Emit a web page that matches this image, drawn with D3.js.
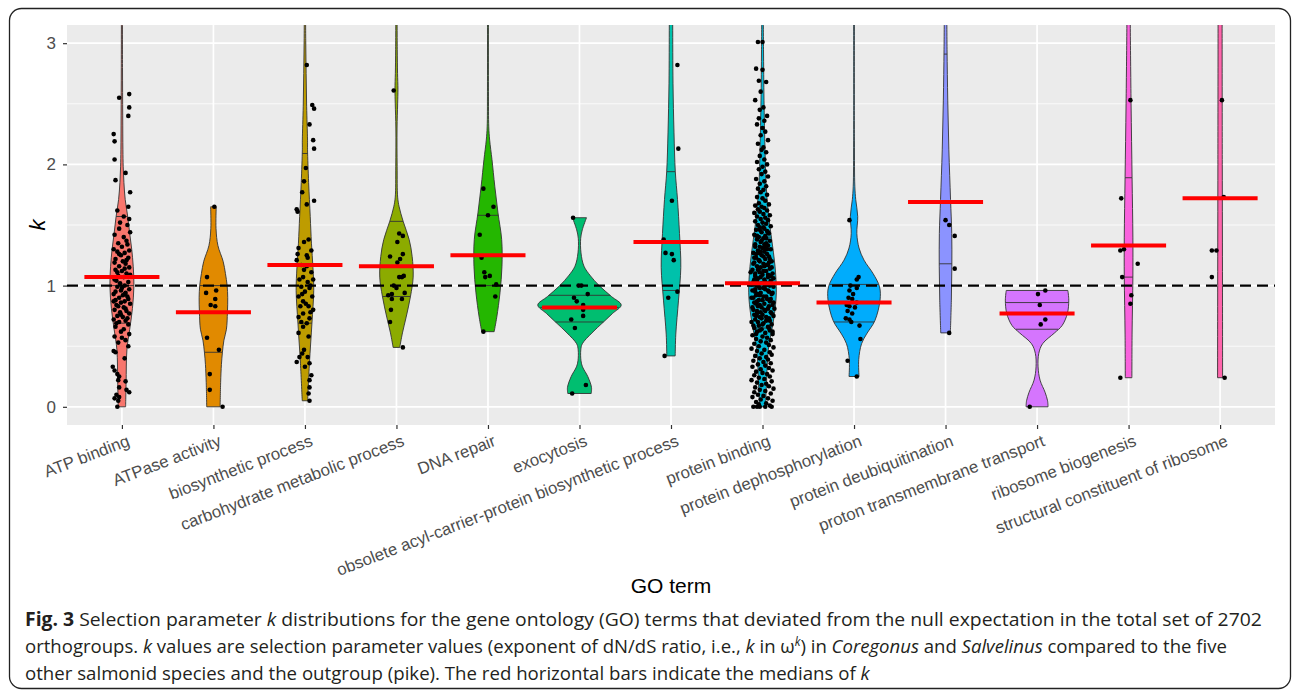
<!DOCTYPE html>
<html>
<head>
<meta charset="utf-8">
<script src="https://cdn.jsdelivr.net/npm/d3@7"></script>
<style>
  body { margin: 0; background: #fff; }
  svg { display: block; font-family: "Liberation Sans", Arial, sans-serif; }
</style>
</head>
<body>
<svg id="chart" width="1293" height="691"></svg>
<script>
// GO terms on the x axis (ggplot default hue palette, one colour per term)
const goTerms = [
  'ATP binding', 'ATPase activity', 'biosynthetic process', 'carbohydrate metabolic process',
  'DNA repair', 'exocytosis', 'obsolete acyl-carrier-protein biosynthetic process',
  'protein binding', 'protein dephosphorylation', 'protein deubiquitination',
  'proton transmembrane transport', 'ribosome biogenesis', 'structural constituent of ribosome'
];
const termColors = ['#F8766D', '#E18A00', '#BE9C00', '#8CAB00', '#24B700', '#00BE70', '#00C1AB',
  '#00BBDA', '#00ACFC', '#8B93FF', '#D575FE', '#F962DD', '#FF65AC'];

// Median k per term (red bars)
const medianK = [1.07, 0.78, 1.17, 1.16, 1.25, 0.82, 1.36, 1.02, 0.86, 1.69, 0.77, 1.33, 1.72];

// Violin quantile lines (25/50/75 %)
const quartileK = [
  [0.69, 1.0, 1.57], [0.45, 0.78, 1.0], [0.69, 1.17, 2.09], [0.91, 1.16, 1.53],
  [1.0, 1.25, 1.58], [0.70, 0.82, 0.92], [0.96, 1.36, 1.94], [0.65, 1.02, 1.40],
  [0.70, 0.86, 1.01], [1.18, 1.69, 2.91], [0.64, 0.77, 0.86], [1.07, 1.33, 1.89], [1.72]
];

// Violin density profiles: [k, density]
const profATPBinding = [[0,3.7],[0.2,4.2],[0.47,5],[0.64,7.8],[0.81,10.5],[1.0,12],[1.16,11.3],[1.3,9.8],[1.43,7.8],[1.57,5.8],[1.71,3.3],[1.85,2],[1.98,1.3],[2.12,1],[2.4,0.8],[2.8,0.6],[3.3,0.5]];
const profATPase = [[0,6.7],[0.2,7.2],[0.35,8],[0.45,9],[0.55,10.5],[0.64,13],[0.78,14],[0.9,14.3],[1.0,13.7],[1.1,12],[1.2,9.7],[1.33,4.5],[1.47,2.6],[1.65,2.8]];
const profBiosynthetic = [[0.05,2.7],[0.36,4.5],[0.69,7],[0.96,8.8],[1.15,8],[1.35,6.5],[1.57,5.3],[1.85,3.7],[2.12,2.6],[2.2,2.6],[2.48,1.7],[2.75,1.2],[3.02,0.8],[3.3,0.6]];
const profCarbohydrate = [[0.49,3.3],[0.61,6],[0.74,9.7],[0.91,14],[1.07,16.7],[1.24,15.7],[1.38,12.7],[1.53,6.7],[1.65,2.7],[1.73,1.2],[1.98,0.7],[2.3,0.6],[2.5,1.2],[2.62,1.5],[2.75,1.1],[2.95,0.8],[3.3,0.6]];
const profDNARepair = [[0.62,6.2],[0.74,8.8],[0.94,12],[1.16,14],[1.38,13.7],[1.6,10],[1.82,6.8],[2.04,4],[2.2,1.7],[2.31,0.8],[2.6,0.5],[3.3,0.5]];
const profExocytosis = [[0.11,11.7],[0.16,12],[0.25,8.3],[0.33,3],[0.38,1.5],[0.47,1.3],[0.52,2.8],[0.61,12.5],[0.7,24],[0.77,33],[0.84,41.7],[0.91,32],[1.0,19.7],[1.08,11],[1.16,4.5],[1.27,1.5],[1.39,1.2],[1.46,2.8],[1.56,7]];
const profObsolete = [[0.42,4.2],[0.6,4.8],[0.88,7.5],[1.15,9.8],[1.43,8.5],[1.71,6.5],[1.94,4.3],[2.26,3],[2.67,2],[3.15,1.7],[3.3,1.6]];
const profProteinBinding = [[0,3],[0.19,4],[0.47,5.8],[0.74,11.5],[0.94,13.8],[1.16,12.5],[1.38,9.2],[1.6,5.8],[1.85,3.5],[2.12,2.5],[2.53,1.5],[2.95,1],[3.3,0.7]];
const profDephos = [[0.25,5],[0.39,4.7],[0.52,7.5],[0.6,12.5],[0.71,20.8],[0.88,26],[0.99,25.5],[1.1,19],[1.21,10],[1.31,5],[1.43,2.8],[1.57,3.7],[1.71,1.7],[1.82,0.8],[2.2,0.4],[3.3,0.4]];
const profDeubiq = [[0.61,4.8],[0.88,5.8],[1.16,6.3],[1.43,6.2],[1.71,5],[2.12,3.3],[2.53,2.2],[2.95,1.5],[3.3,1.2]];
const profProton = [[0,11],[0.05,10.5],[0.12,8],[0.22,3],[0.33,1],[0.44,1.7],[0.52,5.5],[0.61,17.5],[0.67,25],[0.77,30.3],[0.88,31.7],[0.96,30.8]];
const profRibosomeBio = [[0.24,3.3],[0.6,3.5],[1.07,4.3],[1.4,4.3],[1.89,3.5],[2.5,2.5],[3.15,1.7],[3.3,1.6]];
const profStructural = [[0.24,2.5],[1.0,2.4],[2.0,2.2],[3.3,2.0]];

// Jittered points: [k, jitter as % of category width]
const ptsATPBinding = [[2.58,8],[2.55,-3],[2.47,8],[2.40,7],[2.25,-9],[2.19,-8],[2.04,-8],[1.93,4],[1.87,-7],[1.77,9],[1.65,7],[1.62,-5],[1.57,2],[1.55,8],[1.52,-2],[1.50,6],[1.47,-3],[1.44,9],[1.42,-8],[1.40,2],[1.37,5],[1.35,-4],[1.32,0],[1.30,-9],[1.29,8],[1.28,-5],[1.27,3],[1.25,-1],[1.23,7],[1.22,-7],[1.20,1],[1.18,4],[1.16,-3],[1.15,8],[1.13,-7],[1.12,0],[1.10,5],[1.08,-4],[1.07,2],[1.05,-8],[1.03,7],[1.02,-2],[1.00,3],[0.99,-5],[0.97,8],[0.96,-1],[0.94,4],[0.93,-9],[0.92,1],[0.90,-3],[0.89,7],[0.88,-7],[0.87,3],[0.86,-1],[0.85,9],[0.83,-4],[0.82,2],[0.80,-8],[0.79,5],[0.78,-2],[0.77,8],[0.75,-5],[0.74,1],[0.72,-9],[0.71,4],[0.70,-3],[0.68,7],[0.66,-7],[0.64,2],[0.62,-1],[0.60,8],[0.58,-8],[0.57,0],[0.55,4],[0.53,-4],[0.50,7],[0.46,-9],[0.45,-7],[0.40,3],[0.33,-10],[0.30,-8],[0.27,-5],[0.25,-3],[0.22,-4],[0.21,4],[0.16,-3],[0.14,5],[0.12,8],[0.10,-6],[0.08,-3],[0.07,-8],[0.05,-4],[0.00,-5],
  [1.34,6],[1.26,-3],[1.19,-8],[1.14,3],[1.09,9],[1.04,-6],[0.98,0],[0.95,-7],[0.91,6],[0.84,-6],[0.81,4],[0.76,-1],[0.73,6],[0.69,-6],[0.93,3],[1.11,-5],[1.21,5],[0.87,-9]];
const ptsATPase = [[1.65,1],[1.07,-7],[0.94,-8],[0.96,3],[0.89,2],[0.84,-3],[0.83,2],[0.57,-7],[0.47,6],[0.27,-4],[0.14,-4],[0.0,10]];
const ptsBiosynthetic = [[2.82,2],[2.49,8],[2.46,10],[2.33,5],[2.20,9],[2.13,10],[1.97,1],[1.86,-1],[1.77,-3],[1.70,10],[1.63,-9],[1.61,-8],[1.67,2],
  [1.38,4],[1.36,-1],[1.31,-7],[1.29,7],[1.25,2],[1.26,-8],[1.21,-9],[1.17,-4],[1.16,2],[1.11,7],[1.07,-2],[1.05,-6],[1.03,3],[1.05,9],[0.99,-4],[0.98,5],[0.95,0],[0.91,-7],[0.91,8],[0.87,-2],[0.83,-5],[0.83,4],[0.80,9],[0.77,-2],[0.74,-7],[0.73,5],[0.70,-4],[0.69,2],[0.61,-7],[0.47,-1],[0.44,-3],[0.37,-9],[0.41,-6],[0.41,3],[0.36,5],[0.33,0],[0.26,7],[0.22,5],[0.16,5],[0.11,4],[0.05,5],
  [1.23,3],[1.13,-1],[1.0,6],[0.93,-3],[0.85,1],[0.78,6],[0.66,-2],[0.58,4]];
const ptsCarbohydrate = [[2.61,-3],[1.43,3],[1.36,1],[1.41,7],[1.24,-7],[1.22,4],[1.26,7],[1.19,1],[1.07,3],[1.08,8],[1.07,6],[1.0,-3],[0.98,0],[0.93,-5],[0.92,-9],[0.89,-5],[0.94,9],[0.89,6],[0.80,-6],[0.70,-7],[0.49,7]];
const ptsDNARepair = [[1.80,-5],[1.65,6],[1.58,0],[1.42,-9],[1.23,-7],[1.11,-4],[1.08,2],[1.07,-3],[1.01,9],[0.91,8],[0.62,-5]];
const ptsExocytosis = [[1.56,-7],[1.0,-1],[1.0,2],[0.93,9],[0.90,-6],[0.87,-3],[0.84,4],[0.80,4],[0.75,4],[0.72,-9],[0.65,-5],[0.18,7],[0.11,-8]];
const ptsObsolete = [[2.82,7],[2.13,8],[1.70,1],[1.38,-8],[1.27,-6],[1.26,1],[1.21,3],[0.95,7],[0.90,-3],[0.42,-7]];
const ptsProteinBinding = [[3.01,-5],[3.01,0],[2.79,-7],[2.78,0],[2.69,-4],[2.68,4],[2.60,-2],[2.53,-8],[2.47,1],[2.45,-3],[2.40,5],[2.38,-4],[2.36,2],[2.33,-6],[2.30,0],[2.27,3],[2.24,-2],[2.20,6],[2.17,-5],[2.14,1],[2.12,-1],[2.10,4],[2.07,-3],[2.04,2],[2.02,-6],[2.00,5],[1.98,0],[1.96,-4],[1.94,3],[1.92,-1],[1.90,6],[1.88,-7],[1.86,2],[1.84,-3],[1.82,4],[1.80,-5],[1.79,1],[1.77,-2],[1.75,5],[1.73,-6],[1.72,0],[1.70,3],[1.68,-4],[1.67,7],[1.66,-8],[1.65,-1],[1.64,2],[1.63,-5],[1.62,5],[1.61,-3],[1.60,-9],[1.59,1],[1.58,8],[1.57,-6],[1.56,3],[1.55,-2],[1.54,6],[1.53,-8],[1.52,0],[1.51,4],[1.50,-5],[1.49,9],[1.48,-3],[1.47,2],[1.46,-7],[1.45,5],[1.44,-1],[1.43,7],[1.42,-9],[1.41,3],[1.40,-4],[1.39,1],[1.38,-6],[1.37,8],[1.36,-2],[1.35,4],[1.34,-8],[1.33,6],[1.32,-3],[1.31,0],[1.30,9],[1.29,-5],[1.28,2],[1.27,-10],[1.26,5],[1.25,-1],[1.24,7],[1.23,-7],[1.22,3],[1.21,-4],[1.20,10],[1.19,-9],[1.18,1],[1.17,6],[1.16,-6],[1.15,-2],[1.14,8],[1.13,-11],[1.12,4],[1.11,-3],[1.10,11],[1.09,0],[1.08,-8],[1.07,6],[1.06,-5],[1.05,2],[1.04,9],[1.03,-10],[1.02,-1],[1.01,5],[1.00,-6],[0.99,12],[0.98,-3],[0.97,3],[0.96,-11],[0.95,7],[0.94,-2],[0.93,10],[0.92,-7],[0.91,1],[0.90,-12],[0.89,5],[0.88,-4],[0.87,8],[0.86,-9],[0.85,2],[0.84,11],[0.83,-5],[0.82,-1],[0.81,6],[0.80,-10],[0.79,3],[0.78,9],[0.77,-6],[0.76,0],[0.75,12],[0.74,-3],[0.73,7],[0.72,-8],[0.71,4],[0.70,-12],[0.69,1],[0.68,10],[0.67,-4],[0.66,6],[0.65,-9],[0.64,-1],[0.63,8],[0.62,-6],[0.61,3],[0.60,11],[0.59,-11],[0.58,0],[0.57,5],[0.56,-7],[0.55,9],[0.54,-2],[0.53,4],[0.52,-9],[0.51,7],[0.50,-4],[0.49,12],[0.48,-12],[0.47,2],[0.46,-6],[0.45,8],[0.44,-1],[0.43,10],[0.42,-8],[0.41,4],[0.40,-3],[0.39,6],[0.38,-10],[0.37,1],[0.36,9],[0.35,-5],[0.34,3],[0.33,-11],[0.32,7],[0.31,-2],[0.30,11],[0.29,-7],[0.28,0],[0.27,5],[0.26,-9],[0.25,8],[0.24,-4],[0.23,2],[0.22,-12],[0.21,10],[0.20,-6],[0.19,4],[0.18,-1],[0.17,7],[0.16,-8],[0.15,12],[0.14,-3],[0.13,3],[0.12,-9],[0.11,9],[0.10,-5],[0.09,1],[0.08,-11],[0.07,6],[0.06,-2],[0.05,11],[0.04,-7],[0.03,4],[0.02,-4],[0.01,8],[0.00,-10],[0.00,-6],[0.00,-3],[0.00,3],[0.00,10],
  [1.48,1],[1.46,-3],[1.44,6],[1.41,-6],[1.39,4],[1.37,-1],[1.34,2],[1.32,-8],[1.30,5],[1.28,-2],[1.26,-7],[1.24,1],[1.22,8],[1.20,-3],[1.18,-10],[1.17,4],[1.15,10],[1.13,-5],[1.12,1],[1.10,-8],[1.09,6],[1.07,-2],[1.06,12],[1.04,-6],[1.03,3],[1.01,-12],[1.00,8],[0.99,-4],[0.98,1],[0.96,6],[0.95,-8],[0.94,11],[0.92,-3],[0.91,4],[0.90,-10],[0.88,0],[0.87,-6],[0.86,12],[0.84,-3],[0.83,7],[0.82,-11],[0.80,2],[0.79,-6],[0.77,10],[0.76,-9],[0.74,4],[0.73,-1],[0.71,8],[0.70,-5],[0.68,0],[0.67,-10],[0.65,7],[0.63,-3],[0.62,11],[0.60,-7],
  [1.31,3],[1.27,-4],[1.23,-9],[1.19,7],[1.16,2],[1.14,-4],[1.11,-13],[1.08,9],[1.05,-9],[1.02,7],[0.99,2],[0.97,-8],[0.93,-5],[0.89,9],[0.85,-7],[0.81,13],[0.78,-2],[0.75,-7]];
const ptsDephos = [[1.54,-5],[1.07,5],[1.05,3],[1.0,-4],[0.98,3],[0.96,-5],[0.93,-1],[0.90,-6],[0.89,-2],[0.86,3],[0.84,-8],[0.83,-5],[0.82,1],[0.79,-7],[0.77,-2],[0.73,-9],[0.72,-5],[0.70,-3],[0.67,6],[0.56,7],[0.38,-7],[0.25,3]];
const ptsDeubiq = [[1.54,0],[1.50,4],[1.41,10],[1.14,10],[0.61,4]];
const ptsProton = [[0.93,1],[0.96,9],[0.84,3],[0.72,9],[0.68,4],[0.0,-8]];
const ptsRibosomeBio = [[2.53,2],[1.72,-8],[1.29,-9],[1.30,-5],[1.18,10],[1.07,-7],[0.92,3],[0.85,2],[0.24,-9]];
const ptsStructural = [[2.53,2],[1.73,4],[1.29,-9],[1.29,-4],[1.07,-9],[0.24,5]];

const violinProfiles = [profATPBinding, profATPase, profBiosynthetic, profCarbohydrate, profDNARepair,
  profExocytosis, profObsolete, profProteinBinding, profDephos, profDeubiq, profProton, profRibosomeBio, profStructural];
const termPoints = [ptsATPBinding, ptsATPase, ptsBiosynthetic, ptsCarbohydrate, ptsDNARepair,
  ptsExocytosis, ptsObsolete, ptsProteinBinding, ptsDephos, ptsDeubiq, ptsProton, ptsRibosomeBio, ptsStructural];

const yTicks = [0, 1, 2, 3];
const yMinorTicks = [0.5, 1.5, 2.5];
const nullExpectation = 1;


class ViolinPlot {
  constructor(_config) {
    this.config = {
      parentElement: _config.parentElement,
      panel: { left: 67, right: 1275, top: 25, bottom: 425 }
    };
    this.initVis();
  }

  initVis() {
    let vis = this;
    const p = vis.config.panel;

    vis.svg = d3.select(vis.config.parentElement);

    vis.x = d3.scalePoint().domain(goTerms).range([p.left, p.right]).padding(0.6);
    vis.y = d3.scaleLinear().domain([-0.15, 3.15]).range([p.bottom, p.top]);
    // density -> half width in px (45.75 = half a category)
    vis.widthScale = d3.scaleLinear().domain([0, 45.75]).range([0, vis.x.step() / 2]);
    vis.color = d3.scaleOrdinal().domain(goTerms).range(termColors);

    // outer figure frame
    vis.svg.append('rect')
      .attr('x', 9.5).attr('y', 8.5)
      .attr('width', 1281).attr('height', 680)
      .attr('rx', 12)
      .attr('fill', 'none')
      .attr('stroke', '#222')
      .attr('stroke-width', 1.3);

    vis.svg.append('defs').append('clipPath').attr('id', 'panel-clip')
      .append('rect')
      .attr('x', p.left).attr('y', p.top)
      .attr('width', p.right - p.left).attr('height', p.bottom - p.top);

    vis.svg.append('rect')
      .attr('x', p.left).attr('y', p.top)
      .attr('width', p.right - p.left).attr('height', p.bottom - p.top)
      .attr('fill', '#EBEBEB');

    vis.chart = vis.svg.append('g').attr('clip-path', 'url(#panel-clip)');

    vis.renderGrid();
    vis.renderVis();
    vis.renderAxes();
    vis.renderCaption();
  }

  renderGrid() {
    let vis = this;
    const p = vis.config.panel;

    vis.chart.selectAll('.minor').data(yMinorTicks).join('line')
      .attr('x1', p.left).attr('x2', p.right)
      .attr('y1', d => vis.y(d)).attr('y2', d => vis.y(d))
      .attr('stroke', '#fff').attr('stroke-width', 0.8);

    vis.chart.selectAll('.major-y').data(yTicks).join('line')
      .attr('x1', p.left).attr('x2', p.right)
      .attr('y1', d => vis.y(d)).attr('y2', d => vis.y(d))
      .attr('stroke', '#fff').attr('stroke-width', 1.7);

    vis.chart.selectAll('.major-x').data(goTerms).join('line')
      .attr('x1', d => vis.x(d)).attr('x2', d => vis.x(d))
      .attr('y1', p.top).attr('y2', p.bottom)
      .attr('stroke', '#fff').attr('stroke-width', 1.7);
  }

  renderVis() {
    let vis = this;

    const violins = goTerms.map((t, i) => ({ term: t, profile: violinProfiles[i], q: quartileK[i] }));

    const area = d3.area()
      .curve(d3.curveCatmullRom)
      .y(d => vis.y(d[0]));

    const g = vis.chart.selectAll('.violin').data(violins).join('g').attr('class', 'violin');

    g.append('path')
      .attr('d', d => {
        const cx = vis.x(d.term);
        return area.x0(p => cx - vis.widthScale(p[1])).x1(p => cx + vis.widthScale(p[1]))(d.profile);
      })
      .attr('fill', d => vis.color(d.term))
      .attr('stroke', '#333')
      .attr('stroke-width', 0.9);

    // quantile lines across the violin
    g.each(function(d) {
      const cx = vis.x(d.term);
      const halfAt = d3.scaleLinear().domain(d.profile.map(p => p[0])).range(d.profile.map(p => p[1]));
      d3.select(this).selectAll('.q').data(d.q).join('line')
        .attr('x1', q => cx - vis.widthScale(halfAt(q)))
        .attr('x2', q => cx + vis.widthScale(halfAt(q)))
        .attr('y1', q => vis.y(q)).attr('y2', q => vis.y(q))
        .attr('stroke', '#333').attr('stroke-width', 0.9);
    });

    // jittered points
    const points = termPoints.flatMap((pts, i) => pts.map(p => ({ term: goTerms[i], k: p[0], j: p[1] })));
    vis.chart.selectAll('.pt').data(points).join('circle')
      .attr('cx', d => vis.x(d.term) + vis.x.step() * d.j / 100)
      .attr('cy', d => vis.y(d.k))
      .attr('r', 2.3)
      .attr('fill', '#000');

    // null expectation k = 1
    vis.chart.append('line')
      .attr('x1', vis.config.panel.left).attr('x2', vis.config.panel.right)
      .attr('y1', vis.y(nullExpectation)).attr('y2', vis.y(nullExpectation))
      .attr('stroke', '#000').attr('stroke-width', 2.3)
      .attr('stroke-dasharray', '11,6');

    // medians
    vis.chart.selectAll('.median').data(goTerms).join('line')
      .attr('x1', d => vis.x(d) - vis.x.step() * 0.41)
      .attr('x2', d => vis.x(d) + vis.x.step() * 0.41)
      .attr('y1', (d, i) => vis.y(medianK[i])).attr('y2', (d, i) => vis.y(medianK[i]))
      .attr('stroke', '#FF0000').attr('stroke-width', 4);
  }

  renderAxes() {
    let vis = this;
    const p = vis.config.panel;

    const yAxis = vis.svg.append('g')
      .attr('transform', `translate(${p.left},0)`)
      .call(d3.axisLeft(vis.y).tickValues(yTicks).tickSize(4).tickPadding(7).tickFormat(d3.format('d')));
    yAxis.select('.domain').remove();
    yAxis.selectAll('line').attr('stroke', '#333').attr('stroke-width', 1.2);
    yAxis.selectAll('text').attr('fill', '#4D4D4D').style('font-size', '17px');

    const xAxis = vis.svg.append('g')
      .attr('transform', `translate(0,${p.bottom})`)
      .call(d3.axisBottom(vis.x).tickSize(4).tickSizeOuter(0));
    xAxis.select('.domain').remove();
    xAxis.selectAll('line').attr('stroke', '#333').attr('stroke-width', 1.2);
    xAxis.selectAll('text')
      .attr('fill', '#4D4D4D')
      .style('font-size', '16.8px')
      .attr('text-anchor', 'end')
      .attr('x', 0).attr('y', 0).attr('dy', '0.72em')
      .attr('transform', 'translate(4,9) rotate(-21)');

    vis.svg.append('text')
      .attr('x', (p.left + p.right) / 2).attr('y', 593)
      .attr('text-anchor', 'middle')
      .style('font-size', '21px')
      .attr('fill', '#000')
      .text('GO term');

    vis.svg.append('text')
      .attr('transform', `translate(45,${(p.top + p.bottom) / 2}) rotate(-90)`)
      .attr('text-anchor', 'middle')
      .style('font-size', '22px')
      .style('font-style', 'italic')
      .text('k');
  }

  renderCaption() {
    let vis = this;

    const lines = [
      [['Fig. 3', 'b'], [' Selection parameter '], ['k', 'i'], [' distributions for the gene ontology (GO) terms that deviated from the null expectation in the total set of 2702']],
      [['orthogroups. '], ['k', 'i'], [' values are selection parameter values (exponent of dN/dS ratio, i.e., '], ['k', 'i'], [' in ω'], ['k', 's'], [') in '], ['Coregonus', 'i'], [' and '], ['Salvelinus', 'i'], [' compared to the five']],
      [['other salmonid species and the outgroup (pike). The red horizontal bars indicate the medians of '], ['k', 'i']]
    ];
    const baselines = [626, 653, 680];
    const lineEnds = [1263, 1228, 870];

    lines.forEach((parts, li) => {
      const t = vis.svg.append('text')
        .attr('x', 0).attr('y', 0)
        .style('font-family', '"Open Sans", sans-serif')
        .style('font-size', '19px')
        .attr('fill', '#231F20');
      let raised = false;
      parts.forEach(([s, style]) => {
        const ts = t.append('tspan').text(s);
        if (raised) { ts.attr('dy', 7); raised = false; }
        if (style === 'b') ts.style('font-weight', 'bold');
        if (style === 'i') ts.style('font-style', 'italic');
        if (style === 's') {
          ts.style('font-style', 'italic').style('font-size', '12px').attr('dy', -7);
          raised = true;
        }
      });
      // condensed caption face: squeeze each line to the reference width
      const sx = (lineEnds[li] - 25) / t.node().getComputedTextLength();
      t.attr('transform', `translate(25,${baselines[li]}) scale(${sx},1)`);
    });
  }
}

new ViolinPlot({ parentElement: '#chart' });
</script>
</body>
</html>
